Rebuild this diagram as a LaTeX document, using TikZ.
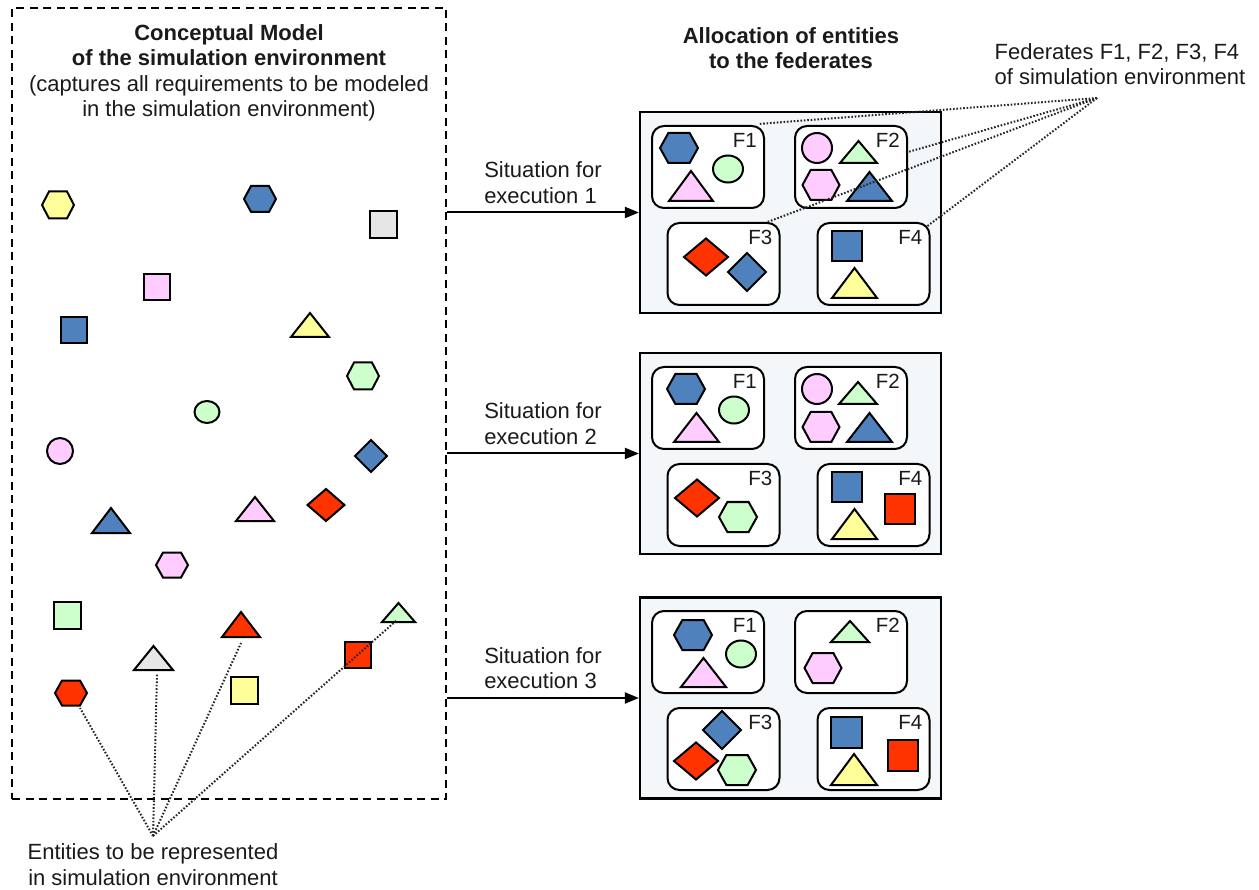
\documentclass[tikz,border=0pt]{standalone}
\usepackage{fontspec}
\setmainfont{Liberation Sans}
\usetikzlibrary{shapes.geometric,arrows.meta}

\definecolor{entblue}{HTML}{4F81BD}
\definecolor{entpink}{HTML}{FFCCFF}
\definecolor{entgreen}{HTML}{CCFFCC}
\definecolor{entyellow}{HTML}{FFFF99}
\definecolor{entred}{HTML}{FF3300}
\definecolor{entgrey}{HTML}{E6E6E6}
\definecolor{panelfill}{HTML}{F3F7F9}
\definecolor{textdark}{HTML}{1A1A1A}

\tikzset{
  entline/.style={draw=black, line width=2pt, line join=miter},
  entbox/.style={inner sep=0pt, outer sep=0pt},
  panel/.style={draw=black, line width=2.2pt, fill=panelfill, inner sep=0pt,
                minimum width=301pt, minimum height=201pt},
  fedbox/.style={draw=black, line width=2pt, fill=white, rounded corners=12pt,
                 inner sep=0pt, minimum width=112pt, minimum height=82pt},
  fedlabel/.style={anchor=north east, inner sep=0pt, text=textdark,
                   font=\fontsize{20.5}{21}\selectfont},
  pointer/.style={draw=black!85, line width=2pt, dash pattern=on 1.6pt off 1.8pt},
  flow/.style={draw=black, line width=2pt, -{Triangle[length=14pt,width=11pt]}},
  txt/.style={font=\fontsize{22}{25.5}\selectfont, align=center, inner sep=0pt, text=textdark},
}

% entity shapes: name, x, y, width, height, fill colour
\newcommand\entHex[6]{%
  \node[entbox, minimum width=#4pt, minimum height=#5pt] (#1) at (#2,#3) {};
  \draw[entline, fill=#6] (#1.west) -- ([xshift=0.22*#4pt]#1.north west)
    -- ([xshift=-0.22*#4pt]#1.north east) -- (#1.east)
    -- ([xshift=-0.22*#4pt]#1.south east) -- ([xshift=0.22*#4pt]#1.south west) -- cycle;}
\newcommand\entTri[6]{%
  \node[entbox, minimum width=#4pt, minimum height=#5pt] (#1) at (#2,#3) {};
  \draw[entline, fill=#6] (#1.north) -- (#1.south east) -- (#1.south west) -- cycle;}
\newcommand\entDia[6]{%
  \node[entbox, minimum width=#4pt, minimum height=#5pt] (#1) at (#2,#3) {};
  \draw[entline, fill=#6] (#1.north) -- (#1.east) -- (#1.south) -- (#1.west) -- cycle;}
\newcommand\entBox[6]{%
  \node[entbox, entline, fill=#6, minimum width=#4pt, minimum height=#5pt] (#1) at (#2,#3) {};}
\newcommand\entOval[6]{%
  \node[entbox, entline, ellipse, fill=#6, minimum width=#4pt, minimum height=#5pt] (#1) at (#2,#3) {};}

\begin{document}
\begin{tikzpicture}[x=1pt, y=-1pt]
\useasboundingbox (0,0) rectangle (1259,890);

% ---------- conceptual model ----------
\node[draw=black, line width=2pt, dash pattern=on 8pt off 5.5pt, inner sep=0pt,
      minimum width=434pt, minimum height=791pt] (cm) at (229,403.5) {};
\node[txt] (cmtitle) at (229,73)
  {\textbf{Conceptual Model}\\\textbf{of the simulation environment}\\
   (captures all requirements to be modeled\\in the simulation environment)};

\entHex{yhexA}{58}{205}{32}{27}{entyellow}
\entHex{bhexA}{260}{199}{32}{26}{entblue}
\entBox{gsqA}{383.5}{224.5}{27}{27}{entgrey}
\entBox{psqA}{156.5}{287.5}{26}{26}{entpink}
\entBox{bsqA}{74}{330.5}{26}{26}{entblue}
\entTri{ytriA}{310}{325}{38}{24}{entyellow}
\entHex{ghexA}{363}{376}{32}{27}{entgreen}
\entOval{govA}{207}{412}{25}{22}{entgreen}
\entOval{pcircA}{60}{451}{26}{26}{entpink}
\entDia{bdiaA}{371}{456}{32}{32}{entblue}
\entDia{rdiaA}{326}{505}{37}{32}{entred}
\entTri{ptriA}{255}{509}{38}{24}{entpink}
\entTri{btriA}{111}{520.5}{38}{25}{entblue}
\entHex{phexA}{172}{565}{32}{25}{entpink}
\entBox{gsqB}{67.5}{615}{27}{27}{entgreen}
\entTri{rtri}{241}{624.5}{38}{25}{entred}
\entTri{lgtri}{398.5}{612.5}{33}{19}{entgreen}
\entTri{gytri}{153.5}{658}{39}{24}{entgrey}
\entBox{rsqA}{358}{655}{26}{26}{entred}
\entHex{rhex}{71}{693}{32}{25}{entred}
\entBox{ysqA}{244.5}{690.5}{27}{27}{entyellow}

\node[txt] (enttxt) at (153,864.5) {Entities to be represented\\in simulation environment};
\coordinate (entfocus) at (153,836);
\draw[pointer] (entfocus) -- ([xshift=9pt,yshift=-2.5pt]rhex.south);
\draw[pointer] (entfocus) -- ([xshift=3.5pt,yshift=-3pt]gytri.south);
\draw[pointer] (entfocus) -- ([yshift=-6pt]rtri.south);
\draw[pointer] (entfocus) -- ([xshift=-1.5pt,yshift=2pt]lgtri.south);

% ---------- allocation panels ----------
\node[txt] (altitle) at (791,48) {\textbf{Allocation of entities}\\\textbf{to the federates}};

\node[panel] (s1) at (790.5,212.5) {};
\node[panel] (s2) at (790.5,453.5) {};
\node[panel] (s3) at (790.5,698) {};

\draw[flow] (cm.east |- s1.west) -- node[txt, align=left, above=8pt] {Situation for\\execution 1} (s1.west);
\draw[flow] (cm.east |- s2.west) -- node[txt, align=left, above=8pt] {Situation for\\execution 2} (s2.west);
\draw[flow] (cm.east |- s3.west) -- node[txt, align=left, above=8pt] {Situation for\\execution 3} (s3.west);

% federate boxes of execution 1
\node[fedbox] (f1a) at (708,167) {};
\node[fedbox] (f2a) at (851,167) {};
\node[fedbox] (f3a) at (723.5,264) {};
\node[fedbox] (f4a) at (873.5,264) {};
% federate boxes of execution 2
\node[fedbox] (f1b) at (708,408) {};
\node[fedbox] (f2b) at (851,408) {};
\node[fedbox] (f3b) at (723.5,505) {};
\node[fedbox] (f4b) at (873.5,505) {};
% federate boxes of execution 3
\node[fedbox] (f1c) at (708,652) {};
\node[fedbox] (f2c) at (851,652) {};
\node[fedbox] (f3c) at (723.5,749) {};
\node[fedbox] (f4c) at (873.5,749) {};

\foreach \e in {a,b,c}{
  \node[fedlabel] at ([xshift=-8pt,yshift=-8pt]f1\e.north east) {F1};
  \node[fedlabel] at ([xshift=-8pt,yshift=-8pt]f2\e.north east) {F2};
  \node[fedlabel] at ([xshift=-8pt,yshift=-8pt]f3\e.north east) {F3};
  \node[fedlabel] at ([xshift=-8pt,yshift=-8pt]f4\e.north east) {F4};
}

% execution 1
\entHex{bhexB}{679}{148}{38}{30}{entblue}
\entOval{govB}{728}{169}{30}{27}{entgreen}
\entTri{ptriB}{691}{186}{44}{30}{entpink}
\entOval{pcircB}{817}{148}{30}{30}{entpink}
\entTri{gtriB}{858.5}{152}{37}{22}{entgreen}
\entHex{phexB}{821}{185}{37}{30}{entpink}
\entTri{btriB}{869.5}{186.5}{45}{29}{entblue}
\entDia{rdiaB}{706}{257}{44}{37}{entred}
\entDia{bdiaB}{747}{272}{38}{38}{entblue}
\entBox{bsqB}{847}{246}{30}{30}{entblue}
\entTri{ytriB}{854.5}{283}{45}{30}{entyellow}

% execution 2
\entHex{bhexC}{686}{389}{38}{30}{entblue}
\entOval{govC}{734}{410}{30}{27}{entgreen}
\entTri{ptriC}{696.5}{427.5}{45}{29}{entpink}
\entOval{pcircC}{817}{389}{30}{30}{entpink}
\entTri{gtriC}{858}{393}{38}{22}{entgreen}
\entHex{phexC}{821}{427}{37}{30}{entpink}
\entTri{btriC}{869.5}{427.5}{45}{29}{entblue}
\entDia{rdiaC}{697}{498}{44}{37}{entred}
\entHex{ghexC}{738}{517}{38}{30}{entgreen}
\entBox{bsqC}{847}{487}{30}{30}{entblue}
\entBox{rsqC}{899.5}{509}{30}{30}{entred}
\entTri{ytriC}{854.5}{524}{45}{30}{entyellow}

% execution 3
\entHex{bhexD}{693}{635}{38}{30}{entblue}
\entOval{govD}{741}{654}{30}{27}{entgreen}
\entTri{ptriD}{703.5}{672.5}{45}{29}{entpink}
\entTri{gtriD}{850}{631.5}{38}{21}{entgreen}
\entHex{phexD}{823}{668}{37}{30}{entpink}
\entDia{bdiaD}{722}{730}{38}{38}{entblue}
\entDia{rdiaD}{696}{761}{44}{37}{entred}
\entHex{ghexD}{737}{770}{38}{30}{entgreen}
\entBox{bsqD}{846.5}{732.5}{31}{31}{entblue}
\entBox{rsqD}{903}{755}{30}{31}{entred}
\entTri{ytriD}{854}{769.5}{46}{31}{entyellow}

% federates caption and its pointers
\node[txt, align=left] (fedtxt) at (1120,64) {Federates F1, F2, F3, F4\\of simulation environment};
\coordinate (fedfocus) at (1097,98);
\draw[pointer] (fedfocus) -- ([xshift=-7pt,yshift=1pt]f1a.north east);
\draw[pointer] (fedfocus) -- ([yshift=15pt]f2a.east);
\draw[pointer] (fedfocus) -- ([xshift=-13pt]f3a.north east);
\draw[pointer] (fedfocus) -- ([xshift=-3pt,yshift=-4pt]f4a.north east);
\end{tikzpicture}
\end{document}
